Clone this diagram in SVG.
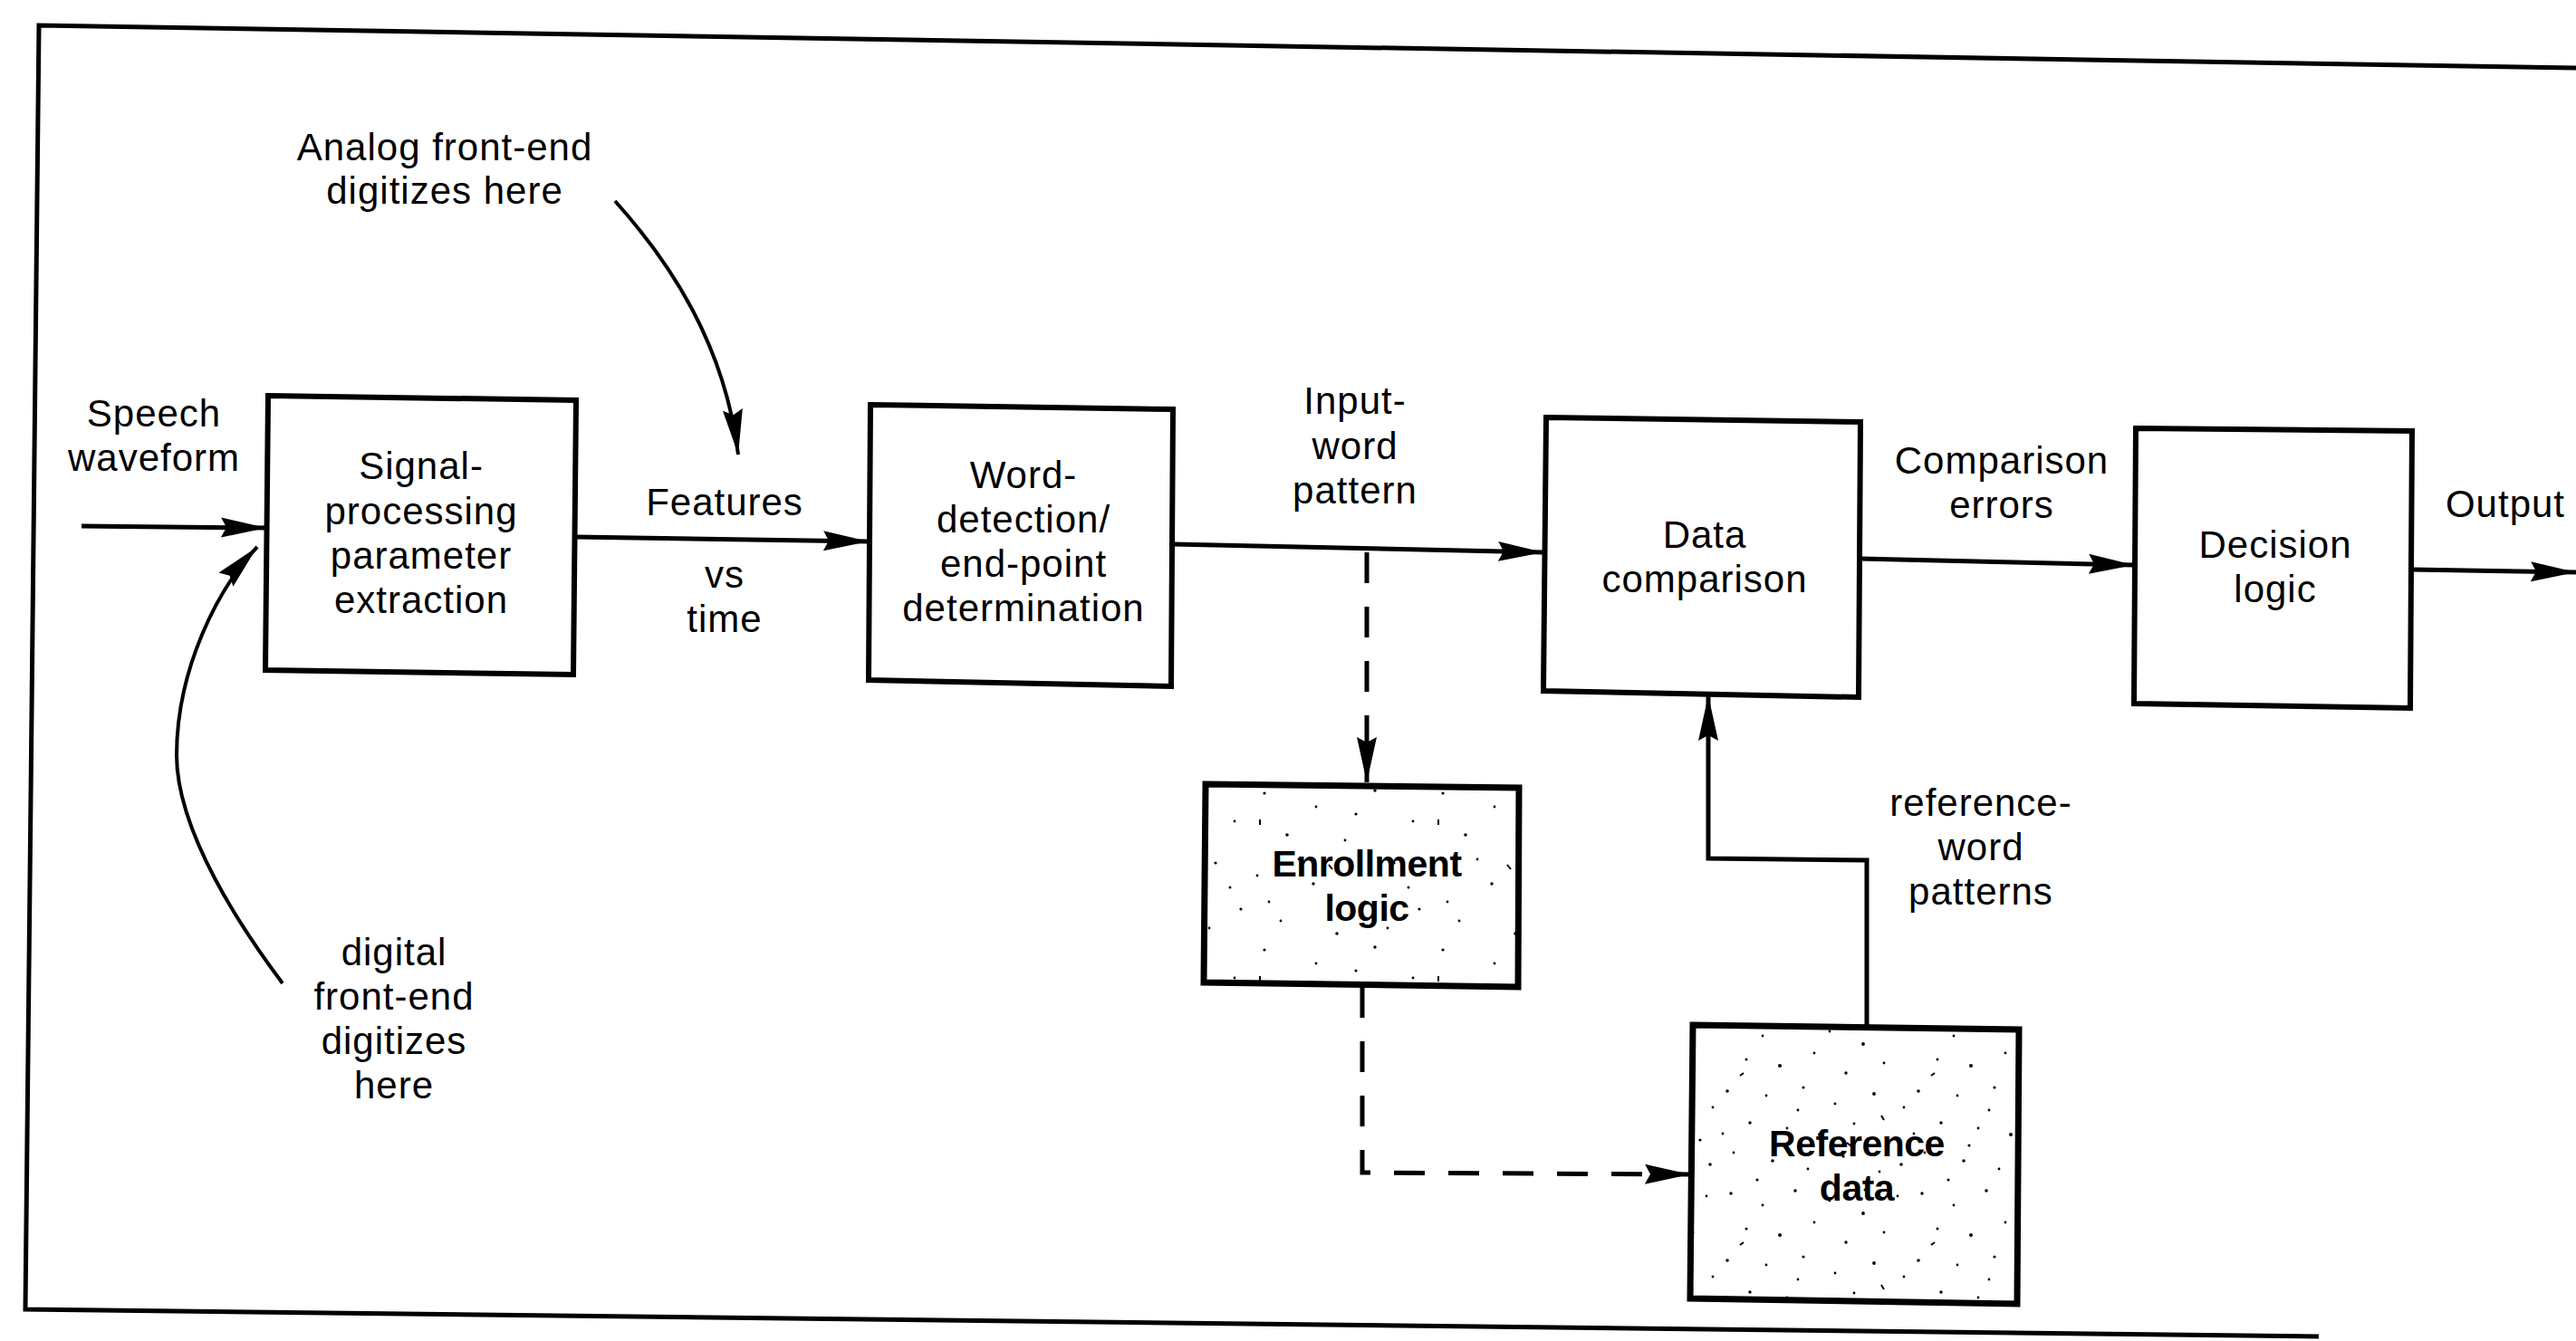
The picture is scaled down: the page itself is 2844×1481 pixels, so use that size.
<svg xmlns="http://www.w3.org/2000/svg" width="2844" height="1481" viewBox="0 0 2844 1481">
  <style>
    .frame { fill: none; stroke: #000; stroke-width: 5; stroke-linejoin: miter; }
    .box { fill: #fff; stroke: #000; stroke-width: 6; stroke-linejoin: miter; }
    .shaded { stroke: #000; stroke-width: 7; stroke-linejoin: miter; }
    .wire { fill: none; stroke: #000; stroke-width: 5; }
    .dash { fill: none; stroke: #000; stroke-width: 5; stroke-dasharray: 34 26; }
    .curve { fill: none; stroke: #000; stroke-width: 4; }
    text { font-family: "Liberation Sans", Arial, Helvetica, sans-serif; font-size: 42px; letter-spacing: 1px; fill: #000; text-anchor: middle; }
    .bold { font-weight: bold; font-size: 41px; letter-spacing: -0.5px; }
  </style>
  <defs>
    <marker id="head" markerUnits="userSpaceOnUse" markerWidth="52" markerHeight="24" refX="50" refY="12" orient="auto" viewBox="0 0 52 24">
      <path d="M0,1 L50,12 L0,23 L6,12 Z" fill="#000"/>
    </marker>
    <!-- denser stipple for the reference store -->
    <pattern id="stipple-dense" patternUnits="userSpaceOnUse" width="211" height="187">
      <rect width="211" height="187" fill="#fff"/>
      <g fill="#000">
        <circle cx="12" cy="9" r="1.7"/><circle cx="47" cy="22" r="1.4"/><circle cx="83" cy="6" r="1.8"/>
        <circle cx="121" cy="17" r="1.4"/><circle cx="158" cy="31" r="1.9"/><circle cx="196" cy="12" r="1.4"/>
        <circle cx="29" cy="48" r="1.5"/><circle cx="66" cy="55" r="2"/><circle cx="104" cy="41" r="1.4"/>
        <circle cx="139" cy="63" r="1.7"/><circle cx="181" cy="52" r="1.4"/><circle cx="8" cy="83" r="1.8"/>
        <circle cx="51" cy="88" r="1.4"/><circle cx="92" cy="79" r="1.6"/><circle cx="127" cy="97" r="1.4"/>
        <circle cx="170" cy="86" r="1.9"/><circle cx="203" cy="101" r="1.4"/><circle cx="33" cy="118" r="1.7"/>
        <circle cx="74" cy="124" r="1.4"/><circle cx="110" cy="131" r="2"/><circle cx="148" cy="119" r="1.4"/>
        <circle cx="189" cy="137" r="1.6"/><circle cx="15" cy="151" r="1.4"/><circle cx="58" cy="160" r="1.8"/>
        <circle cx="97" cy="169" r="1.4"/><circle cx="136" cy="155" r="1.7"/><circle cx="176" cy="172" r="1.4"/>
        <circle cx="41" cy="181" r="1.6"/><circle cx="120" cy="183" r="1.4"/><circle cx="200" cy="164" r="1.8"/>
        <circle cx="86" cy="104" r="1.4"/><circle cx="160" cy="5" r="1.5"/><circle cx="3" cy="130" r="1.4"/>
        <circle cx="64" cy="143" r="1.6"/>
        <path d="M140,140 l5,4 M22,66 l4,-3 M178,110 l3,5" stroke="#000" stroke-width="2"/>
      </g>
    </pattern>
    <!-- sparser stipple for the enrollment block -->
    <pattern id="stipple-sparse" patternUnits="userSpaceOnUse" width="197" height="173">
      <rect width="197" height="173" fill="#fff"/>
      <g fill="#000">
        <circle cx="17" cy="11" r="1.6"/><circle cx="74" cy="26" r="1.4"/><circle cx="139" cy="8" r="1.7"/>
        <circle cx="181" cy="42" r="1.4"/><circle cx="42" cy="57" r="1.8"/><circle cx="106" cy="63" r="1.4"/>
        <circle cx="160" cy="88" r="1.6"/><circle cx="9" cy="102" r="1.4"/><circle cx="71" cy="111" r="1.7"/>
        <circle cx="128" cy="131" r="1.4"/><circle cx="188" cy="139" r="1.6"/><circle cx="35" cy="152" r="1.4"/>
        <circle cx="97" cy="166" r="1.8"/><circle cx="153" cy="160" r="1.4"/><circle cx="55" cy="84" r="1.4"/>
        <circle cx="118" cy="34" r="1.6"/><circle cx="22" cy="131" r="1.4"/><circle cx="176" cy="115" r="1.5"/>
        <path d="M88,90 l4,5 M12,40 l0,6" stroke="#000" stroke-width="2"/>
      </g>
    </pattern>
  </defs>

  <!-- outer frame (open on the right) -->
  <path class="frame" d="M2844,75 L43,28 L28,1446 L2560,1476"/>

  <!-- connectors -->
  <g id="connectors">
    <line class="wire" x1="90" y1="581" x2="294" y2="583" marker-end="url(#head)"/>
    <line class="wire" x1="636" y1="593" x2="959" y2="598" marker-end="url(#head)"/>
    <line class="wire" x1="1295" y1="601" x2="1704" y2="610" marker-end="url(#head)"/>
    <line class="wire" x1="2054" y1="617" x2="2356" y2="624" marker-end="url(#head)"/>
    <line class="wire" x1="2663" y1="629" x2="2844" y2="632" marker-end="url(#head)"/>
    <path class="dash" d="M1509,610 L1509,864" marker-end="url(#head)"/>
    <path class="dash" d="M1504,1090 L1504,1295 L1866,1297" marker-end="url(#head)"/>
    <path class="wire" d="M2061,1134 L2061,950 L1886,948 L1886,768" marker-end="url(#head)"/>
    <path class="curve" d="M679,222 C740,290 800,380 815,502" marker-end="url(#head)"/>
    <path class="curve" d="M312,1086 C270,1030 195,920 195,834 C195,740 240,650 284,604" marker-end="url(#head)"/>
  </g>

  <!-- annotations -->
  <g id="labels">
    <text x="491" y="177">Analog front-end</text>
    <text x="491" y="225">digitizes here</text>
    <text x="170" y="471">Speech</text>
    <text x="170" y="520">waveform</text>
    <text x="800" y="569" letter-spacing="2">Features</text>
    <text x="800" y="649">vs</text>
    <text x="800" y="698">time</text>
    <text x="1496" y="457">Input-</text>
    <text x="1496" y="507">word</text>
    <text x="1496" y="556">pattern</text>
    <text x="2210" y="523">Comparison</text>
    <text x="2210" y="572">errors</text>
    <text x="2766" y="571">Output</text>
    <text x="2187" y="901">reference-</text>
    <text x="2187" y="950">word</text>
    <text x="2187" y="999">patterns</text>
    <text x="435" y="1066">digital</text>
    <text x="435" y="1115">front-end</text>
    <text x="435" y="1164">digitizes</text>
    <text x="435" y="1213">here</text>
  </g>

  <!-- blocks -->
  <g id="signal-processing">
    <path class="box" d="M296,437 L636,442 L633,745 L293,740 Z"/>
    <text x="465" y="529">Signal-</text>
    <text x="465" y="579">processing</text>
    <text x="465" y="628">parameter</text>
    <text x="465" y="677">extraction</text>
  </g>
  <g id="word-detection">
    <path class="box" d="M961,447 L1295,452 L1293,758 L959,751 Z"/>
    <text x="1130" y="539">Word-</text>
    <text x="1130" y="588">detection/</text>
    <text x="1130" y="637">end-point</text>
    <text x="1130" y="686">determination</text>
  </g>
  <g id="data-comparison">
    <path class="box" d="M1707,461 L2054,466 L2052,770 L1704,763 Z"/>
    <text x="1882" y="605">Data</text>
    <text x="1882" y="654">comparison</text>
  </g>
  <g id="decision-logic">
    <path class="box" d="M2358,473 L2663,476 L2661,782 L2356,777 Z"/>
    <text x="2512" y="616">Decision</text>
    <text x="2512" y="665">logic</text>
  </g>
  <g id="enrollment-logic">
    <path class="shaded" fill="url(#stipple-sparse)" d="M1331,866 L1677,870 L1676,1090 L1329,1085 Z"/>
    <text class="bold" x="1509" y="968">Enrollment</text>
    <text class="bold" x="1509" y="1017">logic</text>
  </g>
  <g id="reference-data">
    <path class="shaded" fill="url(#stipple-dense)" d="M1869,1132 L2229,1137 L2227,1440 L1866,1434 Z"/>
    <text class="bold" x="2050" y="1277">Reference</text>
    <text class="bold" x="2050" y="1326">data</text>
  </g>
</svg>
